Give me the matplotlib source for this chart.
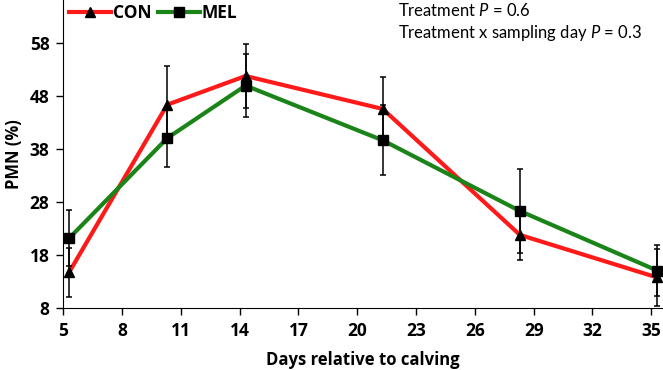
import matplotlib
matplotlib.use("Agg")
import matplotlib.pyplot as plt
from matplotlib.lines import Line2D

plt.rcParams['font.family'] = ['Lato', 'DejaVu Sans']
plt.rcParams['mathtext.fontset'] = 'custom'
plt.rcParams['mathtext.it'] = 'Lato:italic'
plt.rcParams['mathtext.rm'] = 'Lato'

# sampling days (as plotted)
days = [5.3, 10.3, 14.3, 21.3, 28.3, 35.3]

# PMN (%) means and SE
con_mean = [14.8, 46.3, 51.7, 45.5, 21.8, 13.8]
con_err = [4.6, 7.2, 6.1, 6.1, 4.8, 5.3]
mel_mean = [21.2, 40.0, 49.9, 39.6, 26.3, 15.1]
mel_err = [5.3, 5.4, 6.0, 6.6, 7.9, 4.8]

x_ticks = [5, 8, 11, 14, 17, 20, 23, 26, 29, 32, 35]
y_ticks = [8, 18, 28, 38, 48, 58]

RED = "#ff1a1a"
GREEN = "#1a8418"
BOLD = dict(family=['Open Sans', 'DejaVu Sans'], weight='bold')

fig = plt.figure(figsize=(6.63, 3.70), dpi=100)
ax = fig.add_axes([0.0955, 0.1668, 0.9045, 0.8332])

# lines first, error bars and markers on top
ax.plot(days, con_mean, color=RED, lw=3, zorder=2)
ax.plot(days, mel_mean, color=GREEN, lw=3, zorder=2)
ax.errorbar(days, con_mean, yerr=con_err, fmt='none', ecolor='black',
            elinewidth=1.1, capsize=2.5, capthick=1.1, zorder=3)
ax.errorbar(days, mel_mean, yerr=mel_err, fmt='none', ecolor='black',
            elinewidth=1.1, capsize=2.5, capthick=1.1, zorder=3)
ax.plot(days, con_mean, ls='none', marker='^', color='black', ms=6.5, zorder=4)
ax.plot(days, mel_mean, ls='none', marker='s', color='black', ms=6.5, zorder=4)

ax.set_xlim(5, 35.6)
ax.set_ylim(8, 66)
ax.set_xticks(x_ticks)
ax.set_yticks(y_ticks)
ax.set_xticklabels([str(t) for t in x_ticks], fontsize=12.5, **BOLD)
ax.set_yticklabels([str(t) for t in y_ticks], fontsize=12.5, **BOLD)
ax.tick_params(direction='out', length=5, width=1, pad=5)
ax.spines['top'].set_visible(False)
ax.spines['right'].set_visible(False)

ax.set_xlabel('Days relative to calving', fontsize=12, labelpad=8, **BOLD)
ax.set_ylabel('PMN (%)', fontsize=12, labelpad=5, **BOLD)

handles = [
    Line2D([0], [0], color=RED, lw=3, marker='^', mfc='black', mec='black', ms=6.5),
    Line2D([0], [0], color=GREEN, lw=3, marker='s', mfc='black', mec='black', ms=6.5),
]
leg = ax.legend(handles, ['CON', 'MEL'], loc='upper left', ncol=2, frameon=False,
                bbox_to_anchor=(-0.01, 1.025), handlelength=2.4, handletextpad=0.1,
                columnspacing=0.4, borderaxespad=0.3,
                prop={'family': ['Open Sans', 'DejaVu Sans'], 'weight': 'bold', 'size': 12.5})

fig.text(0.600, 0.995, 'Treatment $\\it{P}$ = 0.6', fontsize=12, va='top')
fig.text(0.600, 0.937, 'Treatment x sampling day $\\it{P}$ = 0.3', fontsize=12, va='top')

fig.savefig('out.png', dpi=100)
